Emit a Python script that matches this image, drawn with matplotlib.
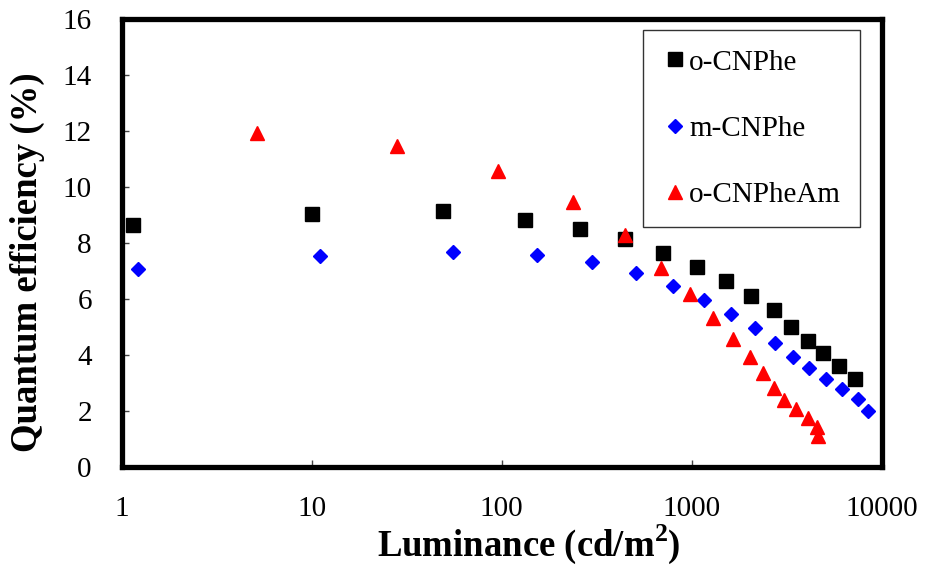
import matplotlib
matplotlib.use("Agg")
import matplotlib.pyplot as plt

plt.rcParams["font.family"] = ["Liberation Serif", "DejaVu Serif"]
plt.rcParams["mathtext.fontset"] = "custom"
plt.rcParams["mathtext.rm"] = "Liberation Serif"
plt.rcParams["mathtext.bf"] = "Liberation Serif:bold"

# luminance (cd/m2) and external quantum efficiency (%) per device
o_cnphe_lum = [1.14, 10.05, 49.1, 132.6, 257, 444, 706, 1066, 1516, 2051, 2711, 3334, 4094, 4910, 5960, 7230]
o_cnphe_eqe = [8.64, 9.05, 9.14, 8.83, 8.51, 8.15, 7.65, 7.15, 6.65, 6.11, 5.61, 5.01, 4.51, 4.08, 3.61, 3.14]

m_cnphe_lum = [1.22, 11.06, 55.2, 154, 300, 509, 794, 1161, 1604, 2161, 2734, 3413, 4143, 5090, 6205, 7500, 8470]
m_cnphe_eqe = [7.06, 7.55, 7.68, 7.58, 7.32, 6.94, 6.45, 5.95, 5.45, 4.98, 4.42, 3.92, 3.54, 3.15, 2.80, 2.43, 2.00]

o_cnpheam_lum = [5.13, 28.0, 96, 237, 444, 687, 976, 1300, 1656, 2019, 2383, 2703, 3070, 3526, 4080, 4548, 4605]
o_cnpheam_eqe = [11.92, 11.47, 10.56, 9.47, 8.29, 7.12, 6.18, 5.33, 4.58, 3.92, 3.35, 2.81, 2.40, 2.06, 1.74, 1.44, 1.11]

x_ticks = [1, 10, 100, 1000, 10000]
x_ticklabels = ["1", "10", "100", "1000", "10000"]
y_ticks = list(range(0, 17, 2))

fig = plt.figure(figsize=(9.27, 5.79), dpi=100)
ax = fig.add_axes([0.1313, 0.1934, 0.8198, 0.7738])

ax.plot(o_cnphe_lum, o_cnphe_eqe, ls="none", marker="s", ms=10, color="black", label="o-CNPhe")
ax.plot(m_cnphe_lum, m_cnphe_eqe, ls="none", marker="D", ms=6.8, color="#0000ff", label="m-CNPhe")
ax.plot(o_cnpheam_lum, o_cnpheam_eqe, ls="none", marker="^", ms=9.5, color="#ff0000", label="o-CNPheAm")

ax.set_xscale("log")
ax.set_xlim(1, 10000)
ax.set_ylim(0, 16)
ax.set_xticks(x_ticks)
ax.set_xticklabels(x_ticklabels)
ax.xaxis.set_minor_locator(matplotlib.ticker.NullLocator())
ax.set_yticks(y_ticks)

for s in ax.spines.values():
    s.set_linewidth(3.8)
ax.tick_params(direction="in", length=5, width=1, color="#444444", labelsize=21, top=False, right=False)
ax.tick_params(axis="x", pad=21)
ax.tick_params(axis="y", pad=21.5)

ax.set_xlabel(r"Luminance (cd/m$^{\mathbf{2}}$)", fontsize=26.5, fontweight="bold")
ax.set_ylabel("Quantum efficiency (%)", fontsize=26.5, fontweight="bold")
ax.xaxis.set_label_coords(0.535, -0.125)
ax.yaxis.set_label_coords(-0.101, 0.4576)

leg = ax.legend(loc="upper left", bbox_to_anchor=(0.686, 0.9754), frameon=True, fancybox=False,
                fontsize=21, handlelength=0.86, handletextpad=0.06, labelspacing=1.36,
                borderpad=0.66, borderaxespad=0)
leg.get_frame().set_edgecolor("#333333")
leg.get_frame().set_linewidth(1.0)
leg.get_frame().set_alpha(1)

fig.savefig("out.png", dpi=100)
